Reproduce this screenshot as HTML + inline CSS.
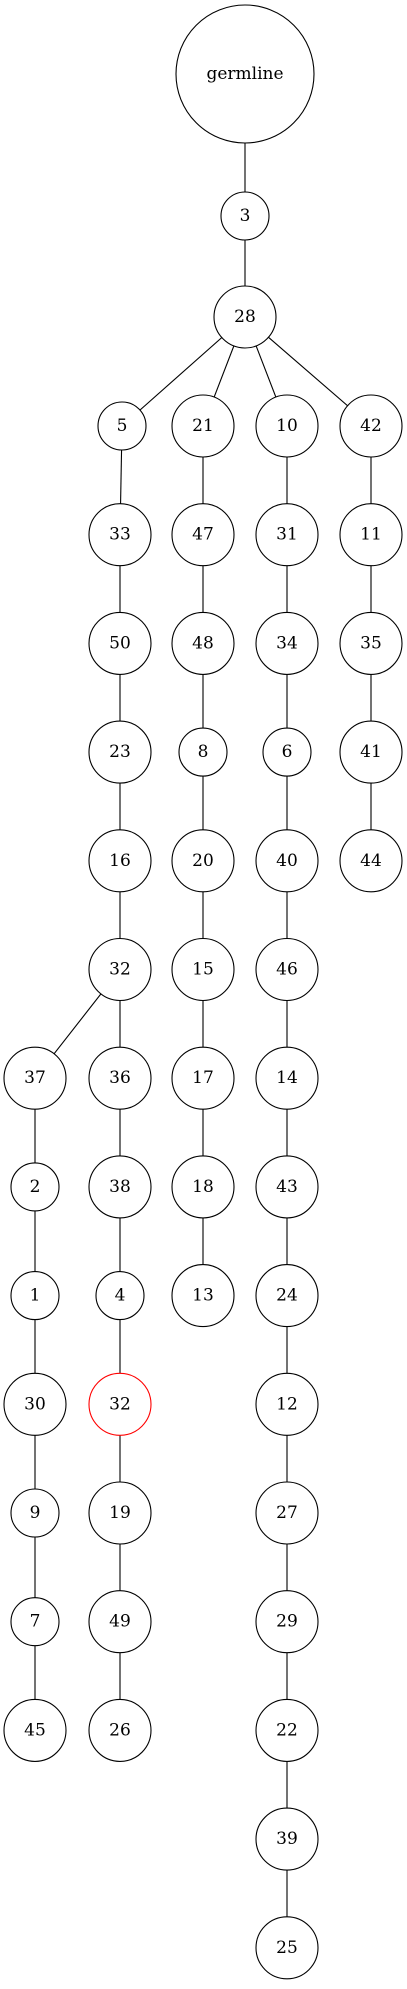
<!DOCTYPE html>
<html><head><meta charset="utf-8"><style>
html,body{margin:0;padding:0;background:#fff;}
svg text{font-family:"DejaVu Serif","Liberation Serif",serif;font-size:17px;text-anchor:middle;dominant-baseline:central;}
</style></head><body>
<svg id="tree" width="407" height="1984" viewBox="0 0 407 1984" xmlns="http://www.w3.org/2000/svg">
<g id="edges"></g><g id="nodes"></g>
</svg>
<script>
// node labels, column index, row index, parent index
const labels = ["germline","3","28","5","33","50","23","16","32","37","2","1","30","9","7","45","36","38","4","32","19","49","26","21","47","48","8","20","15","17","18","13","10","31","34","6","40","46","14","43","24","12","27","29","22","39","25","42","11","35","41","44"];
const cols = [2.5,2.5,2.5,1,1,1,1,1,1,0,0,0,0,0,0,0,1,1,1,1,1,1,1,2,2,2,2,2,2,2,2,2,3,3,3,3,3,3,3,3,3,3,3,3,3,3,3,4,4,4,4,4];
const rows = [-3,-2,-1,0,1,2,3,4,5,6,7,8,9,10,11,12,6,7,8,9,10,11,12,0,1,2,3,4,5,6,7,8,0,1,2,3,4,5,6,7,8,9,10,11,12,13,14,0,1,2,3,4];
const parents = [-1,0,1,2,3,4,5,6,7,8,9,10,11,12,13,14,8,16,17,18,19,20,21,2,23,24,25,26,27,28,29,30,2,32,33,34,35,36,37,38,39,40,41,42,43,44,45,2,47,48,49,50];
const highlighted = [19];
const colX = [35,120,203,287,371];
function xOf(i){ if(cols[i]===2.5) return 245; return i===3?122:colX[cols[i]]; }
function yOf(i){ const r=rows[i]; if(r===-3) return 74; if(r===-2) return 216; if(r===-1) return 317; return 426+r*108.7; }
function rOf(i){ if(i===0) return 69; return labels[i].length>1?31:24; }
const NS="http://www.w3.org/2000/svg";
const E=document.getElementById('edges'), N=document.getElementById('nodes');
for(let i=0;i<labels.length;i++){
  if(parents[i]>=0){
    const p=parents[i];
    const l=document.createElementNS(NS,'line');
    
    
    l.setAttribute('x1',xOf(p));l.setAttribute('y1',yOf(p));
    l.setAttribute('x2',xOf(i));l.setAttribute('y2',yOf(i));
    l.setAttribute('stroke','#000');l.setAttribute('stroke-width','1.1');
    E.appendChild(l);
  }
  const g=document.createElementNS(NS,'g');
  
  
  const c=document.createElementNS(NS,'circle');
  c.setAttribute('cx',xOf(i));c.setAttribute('cy',yOf(i));c.setAttribute('r',rOf(i));
  c.setAttribute('fill','#fff');c.setAttribute('stroke',highlighted.includes(i)?'#f00':'#000');c.setAttribute('stroke-width','1.1');
  const t=document.createElementNS(NS,'text');
  t.setAttribute('x',xOf(i));t.setAttribute('y',yOf(i));
  t.textContent=labels[i];
  g.appendChild(c);g.appendChild(t);N.appendChild(g);
}
</script>
</body></html>
